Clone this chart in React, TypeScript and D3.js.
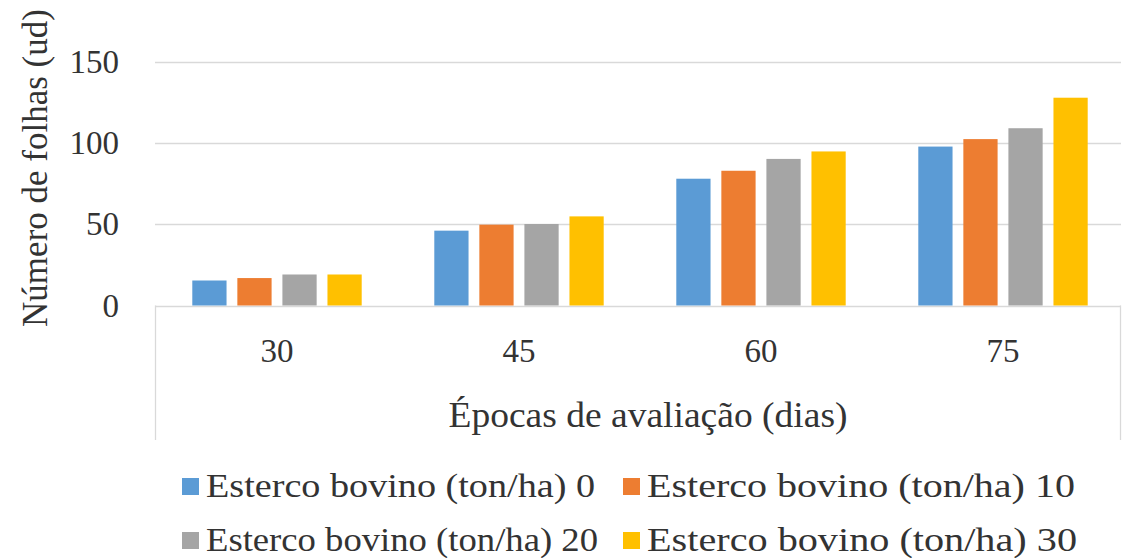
import React from "react";
import * as d3 from "d3";

// Evaluation dates (days) and leaf counts per cattle-manure dose
const categories = ["30", "45", "60", "75"];
const seriesNames = [
  "Esterco bovino (ton/ha) 0",
  "Esterco bovino (ton/ha) 10",
  "Esterco bovino (ton/ha) 20",
  "Esterco bovino (ton/ha) 30",
];
const dose0 = [15.4, 46.1, 78.1, 97.9];
const dose10 = [16.9, 49.8, 83.0, 102.5];
const dose20 = [19.1, 50.2, 90.3, 109.2];
const dose30 = [19.1, 54.9, 94.9, 128.0];
const yTicks = [0, 50, 100, 150];
const colors = ["#5B9BD5", "#ED7D31", "#A5A5A5", "#FFC000"];

const W = 1139;
const H = 558;
const FONT = "'Liberation Serif', 'Times New Roman', serif";
const TEXT = "#333333";
const GRID = "#d9d9d9";

// rendered widths of the legend labels (column-aligned, two per row)
const legendTextWidths = [389, 428, 392, 430];

export default function App() {
  const series = [dose0, dose10, dose20, dose30];

  const plotLeft = 155;
  const plotRight = 1121;

  const x0 = d3
    .scaleBand<string>()
    .domain(categories)
    .range([156, 1124])
    .paddingInner(0.3)
    .paddingOuter(0.15);

  const x1 = d3
    .scaleBand<number>()
    .domain(d3.range(seriesNames.length))
    .range([0, x0.bandwidth()])
    .paddingInner(0.24);

  const y = d3.scaleLinear().domain([0, 150]).range([305.5, 62]);

  const legendRows = [
    [0, 1],
    [2, 3],
  ];
  const legendColX = [182, 623];
  const legendRowY = [486, 540];

  return (
    <svg
      width={W}
      height={H}
      viewBox={`0 0 ${W} ${H}`}
      style={{ position: "absolute", left: 0, top: 0, background: "#fff" }}
      fontFamily={FONT}
    >
      {/* horizontal gridlines */}
      {yTicks.map((t) => (
        <line
          key={`g${t}`}
          x1={plotLeft}
          x2={plotRight}
          y1={Math.round(y(t)) + 0.5}
          y2={Math.round(y(t)) + 0.5}
          stroke={GRID}
          strokeWidth={1.3}
        />
      ))}
      {/* category axis side borders */}
      <line x1={plotLeft + 0.5} x2={plotLeft + 0.5} y1={y(0)} y2={440} stroke={GRID} strokeWidth={1.3} />
      <line x1={plotRight - 0.5} x2={plotRight - 0.5} y1={y(0)} y2={440} stroke={GRID} strokeWidth={1.3} />

      {/* y tick labels */}
      {yTicks.map((t) => (
        <text
          key={`yt${t}`}
          x={119}
          y={y(t) + 11}
          textAnchor="end"
          fontSize={33}
          fill={TEXT}
        >
          {t}
        </text>
      ))}

      {/* y axis title */}
      <text
        transform={`translate(47, 168) rotate(-90)`}
        textAnchor="middle"
        fontSize={35}
        fill={TEXT}
      >
        Número de folhas (ud)
      </text>

      {/* bars */}
      {categories.map((c, ci) => (
        <g key={c} transform={`translate(${x0(c)},0)`}>
          {series.map((vals, si) => (
            <rect
              key={si}
              x={x1(si)}
              y={y(vals[ci])}
              width={x1.bandwidth()}
              height={y(0) - y(vals[ci])}
              fill={colors[si]}
            />
          ))}
        </g>
      ))}

      {/* x tick labels */}
      {categories.map((c) => (
        <text
          key={`xt${c}`}
          x={(x0(c) as number) + x0.bandwidth() / 2}
          y={362}
          textAnchor="middle"
          fontSize={33}
          fill={TEXT}
        >
          {c}
        </text>
      ))}

      {/* x axis title */}
      <text
        x={648}
        y={427}
        textAnchor="middle"
        fontSize={36}
        fill={TEXT}
        textLength={399}
        lengthAdjust="spacingAndGlyphs"
      >
        Épocas de avaliação (dias)
      </text>

      {/* legend */}
      {legendRows.map((row, ri) =>
        row.map((si, ci) => (
          <g key={`lg${si}`}>
            <rect
              x={legendColX[ci]}
              y={legendRowY[ri] - 8}
              width={17}
              height={17}
              fill={colors[si]}
            />
            <text
              x={legendColX[ci] + 24}
              y={legendRowY[ri] + 11}
              fontSize={33}
              fill={TEXT}
              textLength={legendTextWidths[si]}
              lengthAdjust="spacingAndGlyphs"
            >
              {seriesNames[si]}
            </text>
          </g>
        ))
      )}
    </svg>
  );
}
